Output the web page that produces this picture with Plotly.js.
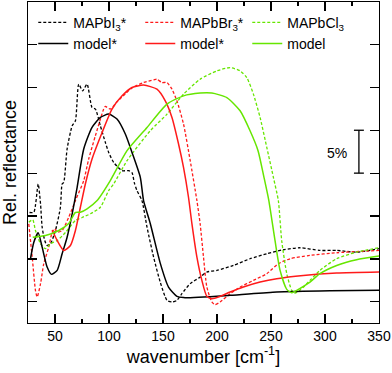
<!DOCTYPE html>
<html>
<head>
<meta charset="utf-8">
<script src="https://cdn.plot.ly/plotly-3.0.1.min.js"></script>
<style>
  html, body { margin: 0; padding: 0; background: #fff; }
  #chart { width: 392px; height: 373px; }
</style>
</head>
<body>
<div id="chart"></div>
<script>
// wavenumber in cm^-1, reflectance in % (offset, 5% per tick)
const iExpX = [26.4, 30.4, 34.4, 36.6, 38.1, 40.5, 42.7, 45.8, 50.4, 55.0, 56.6, 58.1, 61.2, 65.9, 68.9, 72.0, 75.6, 79.7, 84.3, 87.4, 92.0, 96.6, 99.7, 104.3, 112.1, 118.2, 121.3, 123.4, 125.9, 130.5, 135.2, 141.3, 147.5, 153.7, 158.3, 162.9, 167.5, 175.2, 184.4, 190.6, 199.9, 215.2, 230.6, 246.1, 261.4, 276.8, 295.3, 310.8, 329.2, 350];
const iExpY = [10.41, 10.44, 13.74, 11.42, 8.70, 7.15, 6.57, 6.77, 8.31, 11.02, 13.74, 13.93, 17.81, 20.52, 21.10, 25.37, 24.59, 25.37, 22.65, 22.47, 20.52, 18.58, 17.42, 16.26, 15.29, 15.29, 15.06, 13.90, 12.97, 11.80, 8.70, 5.21, 2.27, 0.17, -0.02, 0.17, 0.95, 2.12, 2.88, 3.47, 3.66, 4.24, 5.02, 5.60, 6.07, 6.30, 5.99, 5.99, 5.79, 6.19];

const brExpX = [25.7, 28.9, 31.9, 33.5, 36.6, 39.6, 44.2, 47.4, 49.8, 52.0, 56.6, 62.7, 68.9, 76.6, 81.2, 87.4, 95.1, 96.6, 101.2, 107.4, 115.1, 121.3, 132.0, 141.3, 144.4, 149.0, 153.7, 158.3, 162.9, 169.0, 175.2, 181.4, 184.4, 187.5, 190.6, 195.2, 198.3, 202.9, 212.2, 221.4, 233.7, 246.1, 256.8, 267.6, 286.1, 310.8, 350];
const brExpY = [9.09, 5.21, 1.34, 0.56, 2.12, 4.44, 6.37, 8.12, 8.51, 8.12, 8.31, 9.86, 11.80, 14.13, 16.65, 19.36, 22.47, 22.77, 22.47, 23.31, 24.24, 24.94, 25.56, 25.87, 25.95, 25.56, 25.56, 24.79, 23.43, 20.72, 16.45, 11.80, 9.09, 5.21, 1.72, -0.02, -0.33, -0.02, 0.95, 1.72, 2.50, 3.28, 4.44, 5.02, 5.41, 5.72, 5.99];

const clExpX = [25.7, 29.4, 31.9, 36.6, 41.2, 45.8, 52.0, 59.7, 68.9, 75.1, 82.8, 92.0, 99.7, 104.3, 116.7, 138.2, 153.7, 169.0, 184.4, 199.9, 212.2, 221.4, 227.6, 233.7, 239.9, 246.1, 252.2, 256.8, 259.9, 264.6, 269.2, 272.2, 276.8, 286.1, 295.3, 310.8, 329.2, 350];
const clExpY = [9.28, 9.56, 8.31, 6.77, 6.19, 6.77, 7.15, 8.08, 9.48, 9.83, 10.26, 11.02, 12.97, 13.74, 16.45, 19.94, 21.88, 24.21, 25.95, 26.92, 27.30, 26.92, 26.14, 24.21, 21.49, 18.00, 14.51, 11.80, 7.15, 3.28, 1.34, 1.02, 1.34, 2.50, 3.66, 5.02, 5.79, 6.30];

const iModX = [27.3, 30.4, 34.4, 38.1, 42.7, 46.7, 52.0, 56.6, 61.2, 65.9, 70.5, 76.6, 84.3, 92.0, 99.7, 107.4, 115.1, 121.3, 129.0, 132.0, 138.2, 147.5, 155.1, 162.9, 169.0, 212.1, 255.3, 304.6, 350];
const iModY = [5.02, 6.95, 8.05, 6.37, 4.05, 3.20, 3.66, 5.60, 7.53, 10.26, 13.35, 17.81, 20.33, 21.49, 21.88, 21.30, 19.56, 17.42, 14.51, 11.80, 9.13, 4.48, 1.72, 0.64, 0.49, 0.76, 1.14, 1.28, 1.34];

const brModX = [47.4, 52.0, 58.1, 64.3, 68.9, 73.5, 78.1, 84.3, 93.6, 102.8, 112.1, 121.3, 132.0, 144.4, 152.1, 158.3, 164.4, 169.0, 173.6, 176.8, 181.4, 186.0, 190.6, 195.2, 202.9, 212.2, 224.4, 239.9, 255.3, 279.9, 310.8, 350];
const brModY = [8.37, 7.15, 5.99, 6.57, 8.31, 11.02, 13.74, 16.65, 19.74, 22.47, 24.01, 24.98, 25.26, 24.79, 23.43, 21.49, 18.40, 15.67, 12.19, 9.09, 5.21, 2.50, 0.64, 0.37, 0.64, 1.14, 1.72, 2.30, 2.70, 3.08, 3.35, 3.47];

const clModX = [29.4, 41.2, 53.5, 62.7, 68.9, 73.5, 79.7, 89.0, 101.2, 116.7, 135.2, 153.7, 169.0, 184.4, 195.2, 209.1, 221.4, 230.6, 238.0, 243.5, 248.0, 253.7, 258.4, 264.6, 269.2, 273.8, 286.1, 295.3, 310.8, 329.2, 350];
const clModY = [7.53, 7.73, 8.31, 9.13, 10.41, 10.44, 10.84, 11.80, 14.13, 17.62, 20.33, 23.05, 24.01, 24.33, 24.33, 23.81, 22.27, 19.94, 17.62, 14.51, 11.80, 7.15, 3.66, 1.45, 1.05, 1.34, 2.30, 3.28, 4.24, 4.91, 5.33];

const names = ['MAPbI<sub>3</sub>*', 'MAPbBr<sub>3</sub>*', 'MAPbCl<sub>3</sub>', 'model*', 'model*', 'model'];
const black = '#000000', red = '#ff1a1a', green = '#66e600';

function line(x, y, name, color, dashed) {
  return {
    x, y, name,
    type: 'scatter',
    mode: 'lines',
    line: { color, width: dashed ? 1.3 : 1.5, dash: dashed ? '3px,2px' : 'solid', shape: 'spline', smoothing: 0.6 },
  };
}

const data = [
  line(iExpX, iExpY, names[0], black, true),
  line(brExpX, brExpY, names[1], red, true),
  line(clExpX, clExpY, names[2], green, true),
  line(iModX, iModY, names[3], black, false),
  line(brModX, brModY, names[4], red, false),
  line(clModX, clModY, names[5], green, false),
];

const font = { family: 'Liberation Sans, Arial, sans-serif', color: '#000' };

const layout = {
  width: 392,
  height: 373,
  margin: { l: 28, r: 13, t: 2, b: 50 },
  paper_bgcolor: '#fff',
  plot_bgcolor: '#fff',
  font: { ...font, size: 14 },
  showlegend: true,
  legend: {
    orientation: 'h',
    x: 0.015, y: 0.985,
    xanchor: 'left', yanchor: 'top',
    entrywidth: 62,
    entrywidthmode: 'pixels',
    bgcolor: 'rgba(0,0,0,0)',
    font: { ...font, size: 14 },
    traceorder: 'normal',
  },
  xaxis: {
    range: [25, 350],
    tickvals: [50, 100, 150, 200, 250, 300, 350],
    ticks: 'inside', ticklen: 9, tickwidth: 1.2, tickcolor: '#000',
    minor: { dtick: 25, tick0: 0, ticks: 'inside', ticklen: 4, tickwidth: 1.2, tickcolor: '#000' },
    showline: true, linecolor: '#000', linewidth: 1.3, mirror: 'allticks',
    showgrid: false, zeroline: false,
    tickfont: { ...font, size: 14 },
    title: { text: 'wavenumber [cm<sup>-1</sup>]', font: { ...font, size: 18 }, standoff: 6 },
  },
  yaxis: {
    range: [-2.47, 34.95],
    tickvals: [0, 5, 10, 15, 20, 25, 30],
    ticks: 'inside', ticklen: 9, tickwidth: 1.2, tickcolor: '#000',
    showticklabels: false,
    showline: true, linecolor: '#000', linewidth: 1.3, mirror: 'allticks',
    showgrid: false, zeroline: false,
    title: { text: 'Rel. reflectance', font: { ...font, size: 18 }, standoff: 6 },
  },
  shapes: [
    // 5% scale bar
    { type: 'line', xref: 'x', yref: 'y', x0: 331.4, x1: 331.4, y0: 15, y1: 20, line: { color: '#000', width: 1.3 } },
    { type: 'line', xref: 'x', yref: 'y', x0: 326.8, x1: 336.0, y0: 20, y1: 20, line: { color: '#000', width: 1.3 } },
    { type: 'line', xref: 'x', yref: 'y', x0: 326.8, x1: 336.0, y0: 15, y1: 15, line: { color: '#000', width: 1.3 } },
  ],
  annotations: [
    { x: 311, y: 17.4, xref: 'x', yref: 'y', text: '5%', showarrow: false, font: { ...font, size: 14 } },
  ],
};

Plotly.newPlot('chart', data, layout, { displayModeBar: false, staticPlot: true });
</script>
</body>
</html>
